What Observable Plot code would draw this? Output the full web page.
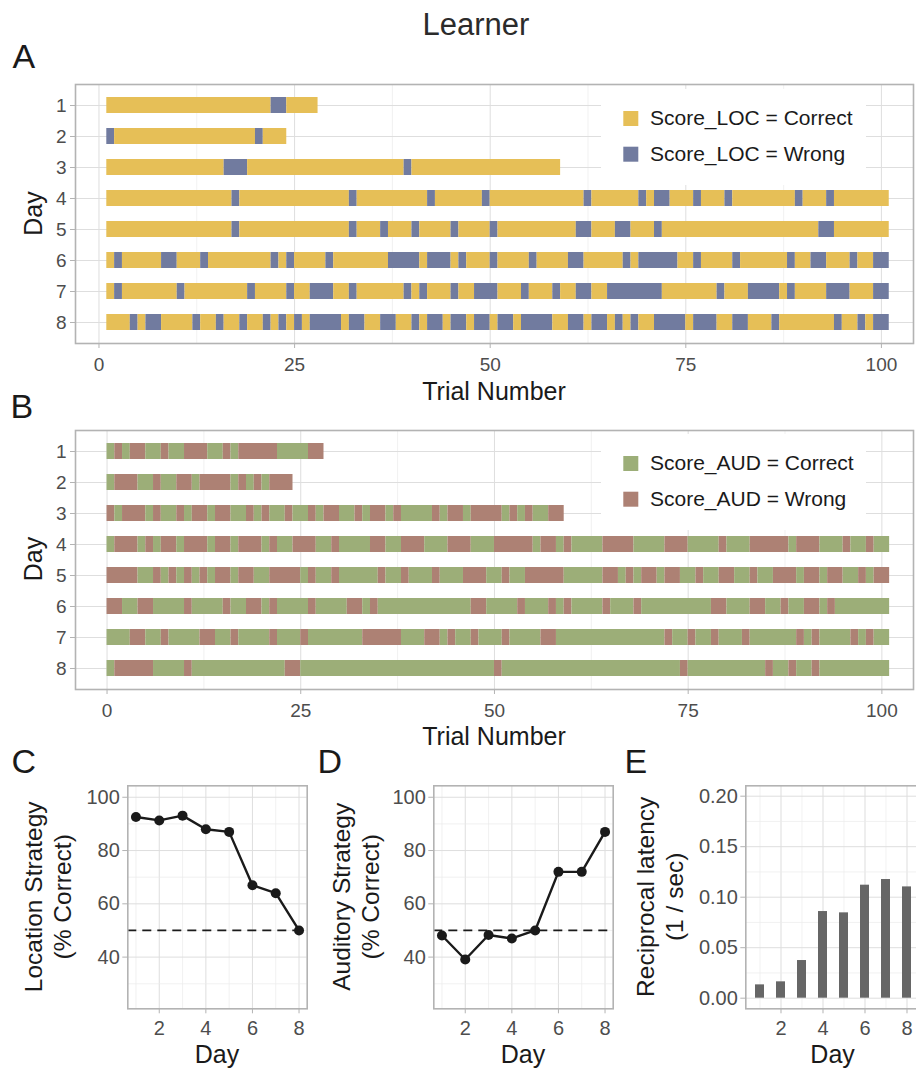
<!DOCTYPE html>
<html><head><meta charset="utf-8">
<script src="https://cdn.jsdelivr.net/npm/d3@7"></script>
<script src="https://cdn.jsdelivr.net/npm/@observablehq/plot@0.6"></script>
<style>
html,body{margin:0;padding:0;background:#fff;}
#fig{position:relative;width:916px;height:1072px;overflow:hidden;background:#fff;font-family:"Liberation Sans",Arial,Helvetica,sans-serif;}
#fig svg.panel{position:absolute;}
#overlay{position:absolute;left:0;top:0;pointer-events:none;}
</style></head><body><div id="fig"></div>
<script>
// ---------------- data ----------------
const days = [1, 2, 3, 4, 5, 6, 7, 8];
const scoreLevels = ["Correct", "Wrong"];

// Panel A: trials per day and the trials scored Wrong (location strategy)
const locTrials = [27, 23, 58, 100, 100, 100, 100, 100];
const locWrong1 = [22, 23];
const locWrong2 = [1, 20];
const locWrong3 = [16, 17, 18, 39];
const locWrong4 = [17, 32, 42, 49, 62, 69, 71, 72, 76, 80, 89, 93];
const locWrong5 = [17, 32, 36, 40, 45, 50, 61, 62, 66, 67, 71, 92, 93];
const locWrong6 = [2, 8, 9, 13, 22, 24, 29, 37, 38, 39, 40, 42, 43, 44, 46, 50, 55, 60, 61, 67, 69, 70, 71, 72, 73, 76, 81, 88, 91, 92, 96, 99, 100];
const locWrong7 = [2, 10, 19, 24, 27, 28, 29, 32, 39, 41, 45, 48, 49, 50, 54, 58, 61, 62, 65, 66, 67, 68, 69, 70, 71, 79, 83, 84, 85, 86, 88, 93, 94, 95, 99, 100];
const locWrong8 = [4, 6, 7, 12, 15, 18, 21, 23, 25, 27, 28, 29, 30, 32, 33, 36, 37, 40, 42, 43, 45, 46, 48, 49, 51, 52, 54, 55, 56, 57, 60, 61, 63, 64, 66, 68, 71, 72, 73, 74, 76, 77, 78, 81, 82, 86, 94, 97, 99, 100];

// Panel B: trial cells per day (numbered from 0) and those scored Wrong (auditory strategy)
const audTrials = [28, 24, 59, 101, 101, 101, 101, 101];
const audWrong1 = [1, 3, 4, 7, 10, 11, 12, 15, 17, 18, 19, 20, 21, 26, 27];
const audWrong2 = [1, 2, 3, 6, 9, 10, 12, 13, 14, 15, 17, 19, 21, 22, 23];
const audWrong3 = [0, 2, 3, 4, 6, 9, 11, 12, 14, 15, 18, 20, 23, 26, 28, 29, 32, 34, 35, 37, 42, 44, 45, 47, 48, 49, 50, 52, 54, 57, 58];
const audWrong4 = [1, 2, 3, 5, 7, 8, 10, 11, 12, 14, 15, 17, 18, 19, 21, 24, 25, 26, 29, 34, 35, 38, 39, 40, 44, 45, 46, 50, 51, 52, 53, 54, 56, 57, 59, 64, 65, 66, 67, 72, 73, 74, 79, 83, 84, 85, 86, 87, 89, 90, 91, 95, 98];
const audWrong5 = [0, 1, 2, 3, 6, 8, 10, 12, 14, 15, 17, 18, 21, 22, 23, 24, 26, 29, 35, 38, 42, 46, 47, 48, 51, 54, 55, 56, 57, 58, 64, 65, 67, 69, 70, 72, 73, 76, 79, 80, 83, 86, 87, 88, 90, 91, 93, 94, 97, 99, 100];
const audWrong6 = [0, 1, 4, 5, 10, 15, 18, 19, 21, 26, 31, 32, 34, 47, 48, 53, 57, 59, 64, 68, 78, 79, 83, 84, 87, 90, 91, 93];
const audWrong7 = [3, 4, 7, 12, 13, 16, 21, 25, 33, 34, 35, 36, 37, 41, 42, 44, 47, 51, 56, 57, 72, 75, 78, 82, 89, 91, 96, 98];
const audWrong8 = [1, 2, 3, 4, 5, 10, 23, 24, 50, 74, 85, 88, 91];

// Panels C, D, E
const locPct = [92.6, 91.3, 93.1, 88.0, 87.0, 67.0, 64.0, 50.0];
const audPct = [48.1, 39.1, 48.3, 47.0, 50.0, 72.0, 72.0, 87.0];
const latency = [0.0132, 0.0162, 0.0373, 0.0858, 0.0845, 0.1119, 0.1175, 0.1102];
const chance = [50];

// ticks
const trialTicks = [0, 25, 50, 75, 100];
const trialMinor = [12.5, 37.5, 62.5, 87.5];
const dayTicks = [2, 4, 6, 8];
const dayMinor = [1, 3, 5, 7];
const pctTicks = [40, 60, 80, 100];
const pctMinor = [30, 50, 70, 90];
const latTicks = [0, 0.05, 0.10, 0.15, 0.20];
const latMinor = [0.025, 0.075, 0.125, 0.175];

// ---------------- styles ----------------
const FONT = '"Liberation Sans", Arial, Helvetica, sans-serif';
const GRID = "#dedede", GRID_MINOR = "#ebebeb", BORDER = "#b3b3b3", TICKTXT = "#4d4d4d", INK = "#1a1a1a";
const LOC_COLORS = ["#E6BF57", "#717B9F"];
const AUD_COLORS = ["#9CAE78", "#AD8174"];
const BAR_GREY = "#666666";

const fig = document.getElementById("fig");

// Build run-length table (consecutive trials with the same score)
function runs(trialCounts, wrongLists, first) {
  const out = [];
  days.forEach((day, i) => {
    const w = new Set(wrongLists[i]);
    let cur = null;
    for (let t = first; t < first + trialCounts[i]; t++) {
      const score = w.has(t) ? "Wrong" : "Correct";
      if (cur && cur.score === score) cur.end = t + 1;
      else { cur = {day, start: t, end: t + 1, score}; out.push(cur); }
    }
  });
  return out;
}
const locRuns = runs(locTrials, [locWrong1, locWrong2, locWrong3, locWrong4, locWrong5, locWrong6, locWrong7, locWrong8], 1);
const audRuns = runs(audTrials, [audWrong1, audWrong2, audWrong3, audWrong4, audWrong5, audWrong6, audWrong7, audWrong8], 0);

function place(svg, left, top) {
  svg.classList.add("panel");
  svg.style.left = left + "px";
  svg.style.top = top + "px";
  fig.appendChild(svg);
}

const baseStyle = {fontFamily: FONT, background: "transparent", overflow: "visible"};

function trialPanel(data, xDomain, colors) {
  return Plot.plot({
    width: 916, height: 298,
    marginLeft: 75, marginRight: 3, marginTop: 4, marginBottom: 35,
    style: baseStyle,
    x: {domain: xDomain},
    y: {type: "band", domain: days, paddingInner: 0.5, paddingOuter: 0.35},
    color: {domain: scoreLevels, range: colors},
    marks: [
      Plot.ruleX(trialMinor, {stroke: GRID_MINOR, strokeWidth: 0.7}),
      Plot.ruleX(trialTicks, {stroke: GRID, strokeWidth: 1}),
      Plot.ruleY(days, {stroke: GRID, strokeWidth: 1}),
      Plot.barX(data, {x1: "start", x2: "end", y: "day", fill: "score"}),
      Plot.frame({stroke: BORDER, strokeWidth: 1.6}),
      Plot.axisX(trialTicks, {tickSize: 5, tickPadding: 9, fontSize: 19, fill: TICKTXT, stroke: BORDER, label: null}),
      Plot.axisY(days, {tickSize: 5, tickPadding: 4, fontSize: 19, fill: TICKTXT, stroke: BORDER, label: null})
    ]
  });
}

function pctPanel(values) {
  const data = days.map((d, i) => ({day: d, value: values[i]}));
  return Plot.plot({
    width: 320, height: 268.3,
    marginLeft: 127.3, marginRight: 13.3, marginTop: 5.3, marginBottom: 40,
    style: baseStyle,
    x: {domain: [0.65, 8.35]},
    y: {domain: [20.6, 104.3]},
    marks: [
      Plot.ruleX(dayMinor, {stroke: GRID_MINOR, strokeWidth: 0.7}),
      Plot.ruleX(dayTicks, {stroke: GRID, strokeWidth: 1}),
      Plot.ruleY(pctMinor, {stroke: GRID_MINOR, strokeWidth: 0.7}),
      Plot.ruleY(pctTicks, {stroke: GRID, strokeWidth: 1}),
      Plot.ruleY(chance, {stroke: INK, strokeWidth: 1.8, strokeDasharray: "9,6"}),
      Plot.line(data, {x: "day", y: "value", stroke: INK, strokeWidth: 2.4}),
      Plot.dot(data, {x: "day", y: "value", r: 5, fill: INK, stroke: "none"}),
      Plot.frame({stroke: BORDER, strokeWidth: 1.6}),
      Plot.axisX(dayTicks, {tickSize: 5, tickPadding: 6.5, fontSize: 20, fill: TICKTXT, stroke: BORDER, label: null}),
      Plot.axisY(pctTicks, {tickSize: 5, tickPadding: 3, fontSize: 20, fill: TICKTXT, stroke: BORDER, label: null})
    ]
  });
}

function latencyPanel() {
  const data = days.map((d, i) => ({day: d, value: latency[i]}));
  return Plot.plot({
    width: 320, height: 268.3,
    marginLeft: 127.3, marginRight: 18, marginTop: 5.3, marginBottom: 40,
    style: baseStyle,
    x: {type: "band", domain: days, paddingInner: 0.59, paddingOuter: 0.365},
    y: {domain: [-0.0105, 0.2103]},
    marks: [
      Plot.ruleX(dayMinor, {stroke: GRID_MINOR, strokeWidth: 0.7}),
      Plot.ruleX(dayTicks, {stroke: GRID, strokeWidth: 1}),
      Plot.ruleY(latMinor, {stroke: GRID_MINOR, strokeWidth: 0.7}),
      Plot.ruleY(latTicks, {stroke: GRID, strokeWidth: 1}),
      Plot.barY(data, {x: "day", y: "value", fill: BAR_GREY}),
      Plot.frame({stroke: BORDER, strokeWidth: 1.6}),
      Plot.axisX(dayTicks, {tickSize: 5, tickPadding: 6.5, fontSize: 20, fill: TICKTXT, stroke: BORDER, label: null}),
      Plot.axisY(latTicks, {tickSize: 5, tickPadding: 3, fontSize: 20, fill: TICKTXT, stroke: BORDER, label: null, tickFormat: d3.format(".2f")})
    ]
  });
}

place(trialPanel(locRuns, [-3.0, 104.1], LOC_COLORS), 0, 80);
place(trialPanel(audRuns, [-4.07, 104.08], AUD_COLORS), 0, 426);
place(pctPanel(locPct), 0, 780);
place(pctPanel(audPct), 306, 780);
place(latencyPanel(), 618, 780);

// ---------------- titles, labels & legends ----------------
const ov = d3.select(fig).append("svg").attr("id", "overlay")
  .attr("width", 916).attr("height", 1072)
  .style("font-family", FONT);

function txt(x, y, s, size, opts = {}) {
  const t = ov.append("text").attr("x", x).attr("y", y).text(s)
    .attr("font-size", size).attr("fill", opts.fill || INK)
    .attr("text-anchor", opts.anchor || "start");
  if (opts.rotate) t.attr("x", null).attr("y", null)
    .attr("transform", `translate(${x},${y}) rotate(-90)`);
  return t;
}

txt(476, 35, "Learner", 31, {anchor: "middle", fill: "#2b2b2b"});

// panel letters
txt(12.5, 68, "A", 34);
txt(10.5, 418, "B", 34);
txt(11.5, 773, "C", 34);
txt(317.5, 773, "D", 34);
txt(624.5, 773, "E", 34);

// axis titles
txt(42, 213.5, "Day", 25, {anchor: "middle", rotate: true});
txt(42, 559, "Day", 25, {anchor: "middle", rotate: true});
txt(494, 400, "Trial Number", 25, {anchor: "middle"});
txt(494, 745, "Trial Number", 25, {anchor: "middle"});
txt(217, 1063, "Day", 25, {anchor: "middle"});
txt(523, 1063, "Day", 25, {anchor: "middle"});
txt(832.6, 1063, "Day", 25, {anchor: "middle"});
txt(42, 896.8, "Location Strategy", 24.5, {anchor: "middle", rotate: true});
txt(71, 896.8, "(% Correct)", 24.5, {anchor: "middle", rotate: true});
txt(349.5, 896.8, "Auditory Strategy", 24.5, {anchor: "middle", rotate: true});
txt(379, 896.8, "(% Correct)", 24.5, {anchor: "middle", rotate: true});
txt(653.5, 896.8, "Reciprocal latency", 24.5, {anchor: "middle", rotate: true});
txt(683, 896.8, "(1 / sec)", 24.5, {anchor: "middle", rotate: true});

// legends (inside panels A and B)
function legend(top, name, colors) {
  ov.append("rect").attr("x", 601).attr("y", top).attr("width", 265).attr("height", 96).attr("fill", "#fff");
  scoreLevels.forEach((lvl, i) => {
    const y0 = top + 22 + i * 35.7;
    ov.append("rect").attr("x", 623.3).attr("y", y0).attr("width", 15).attr("height", 15).attr("fill", colors[i]);
    txt(650, y0 + 14, `${name} = ${lvl}`, 21);
  });
}
legend(89, "Score_LOC", LOC_COLORS);
legend(434, "Score_AUD", AUD_COLORS);
</script></body></html>
